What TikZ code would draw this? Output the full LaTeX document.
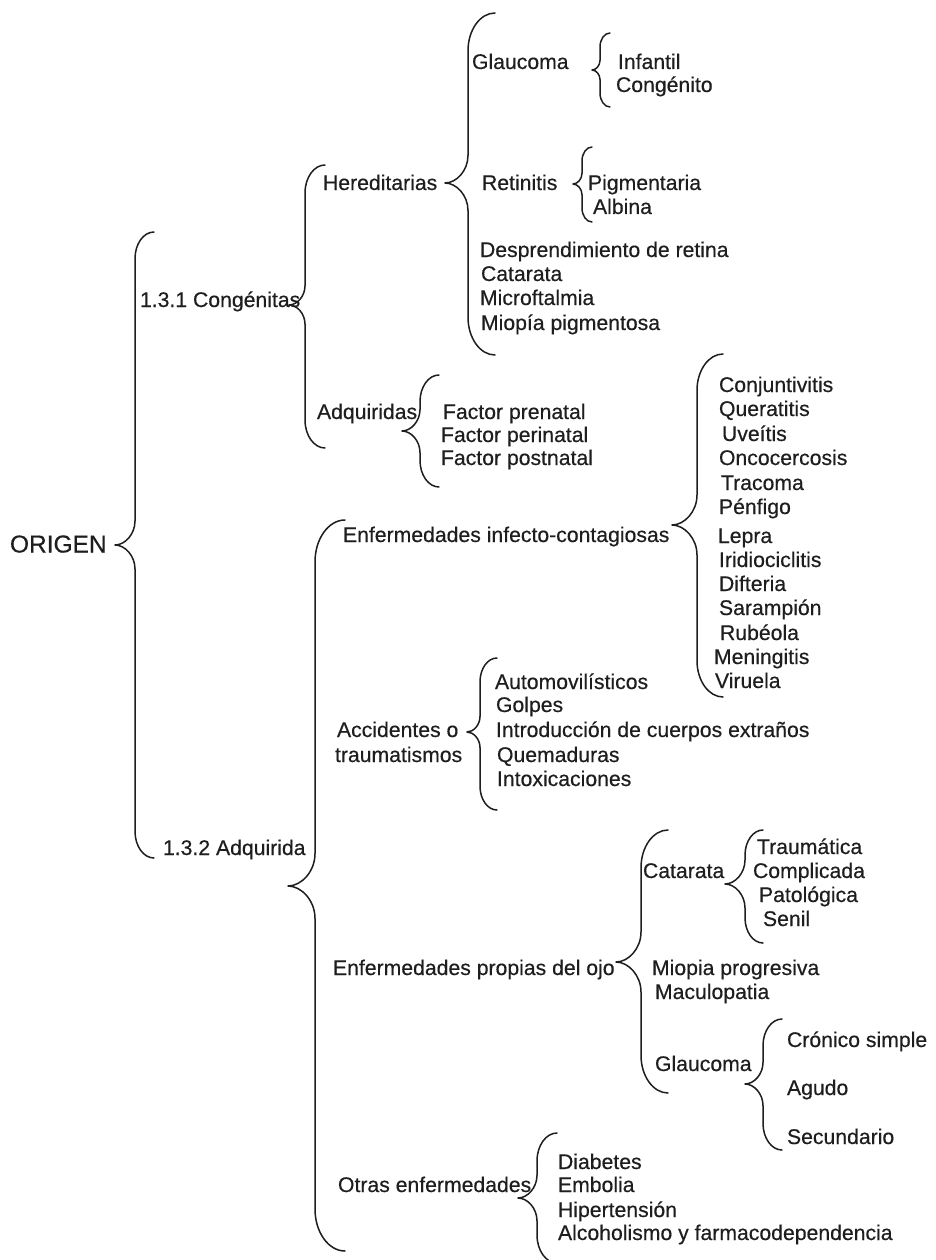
\documentclass[tikz,border=0pt]{standalone}
\usepackage{fontspec}
\setmainfont{Liberation Sans}[FakeBold=0.4]
\definecolor{ink}{HTML}{1E1E1E}

% curly brace: end x, line x, tip x, top y, tip y, bottom y
\newcommand\cbrace[6]{%
  \pgfmathsetmacro\brE{1.4*(#1-#2)}%
  \pgfmathsetmacro\brT{1.2*(#2-#3)}%
  \draw[brace] (#1,#4) .. controls ({#1-0.552*(#1-#2)},#4) and (#2,{#4+0.448*\brE}) .. (#2,{#4+\brE})
    -- (#2,{#5-\brT}) .. controls (#2,{#5-0.45*\brT}) and ({#3+0.5*(#2-#3)},#5) .. (#3,#5)
    .. controls ({#3+0.5*(#2-#3)},#5) and (#2,{#5+0.45*\brT}) .. (#2,{#5+\brT})
    -- (#2,{#6-\brE}) .. controls (#2,{#6-0.448*\brE}) and ({#1-0.552*(#1-#2)},#6) .. (#1,#6);
}

\begin{document}
\begin{tikzpicture}[x=1pt,y=-1pt,
  lbl/.style={anchor=base west, inner sep=0pt, outer sep=0pt, text=ink,
    font=\fontsize{21.2}{25}\selectfont, yshift=-7pt},
  rootlbl/.style={lbl, font=\fontsize{24.5}{29}\selectfont, yshift=-8.5pt},
  brace/.style={draw=ink, line width=1.5pt, line cap=round, line join=round}]

\fill[white] (0,0) rectangle (935,1260);
\useasboundingbox (0,0) rectangle (935,1260);

% root
\node[rootlbl] (origen) at (10,537) {ORIGEN};
\cbrace{154}{135}{115}{232}{545}{858}

% first level
\node[lbl] (cong) at (140,300) {1.3.1 Congénitas};
\node[lbl] (adq) at (163,848) {1.3.2 Adquirida};
\cbrace{325}{305}{289}{165}{305}{448}
\cbrace{345}{315}{288}{520}{886}{1251}

% congenital causes
\node[lbl] (hered) at (323,183) {Hereditarias};
\node[lbl] (adqs) at (317,412) {Adquiridas};
\cbrace{495}{468}{445}{13}{183}{355}
\cbrace{439}{420}{402}{375}{431}{487}

\node[lbl] (glau1) at (472,62) {Glaucoma};
\cbrace{610}{600}{592}{33}{70}{107}
\node[lbl] (infantil) at (618,62) {Infantil};
\node[lbl] (congenito) at (616,85) {Congénito};

\node[lbl] (retin) at (482,183) {Retinitis};
\cbrace{592}{582}{573}{147}{184}{222}
\node[lbl] (pigm) at (588,183) {Pigmentaria};
\node[lbl] (albina) at (593,207) {Albina};

\node[lbl] (despr) at (480,250) {Desprendimiento de retina};
\node[lbl] (catar1) at (481,274) {Catarata};
\node[lbl] (micro) at (480,298) {Microftalmia};
\node[lbl] (miopig) at (481,323) {Miopía pigmentosa};

\node[lbl] (fpre) at (443,412) {Factor prenatal};
\node[lbl] (fperi) at (441,435) {Factor perinatal};
\node[lbl] (fpost) at (441,458) {Factor postnatal};

% acquired causes
\node[lbl] (infec) at (343,535) {Enfermedades infecto-contagiosas};
\cbrace{723}{697}{672}{354}{525}{697}
\node[lbl] (i1) at (719,385) {Conjuntivitis};
\node[lbl] (i2) at (719,409) {Queratitis};
\node[lbl] (i3) at (722,434) {Uveítis};
\node[lbl] (i4) at (719,458) {Oncocercosis};
\node[lbl] (i5) at (721,483) {Tracoma};
\node[lbl] (i6) at (719,507) {Pénfigo};
\node[lbl] (i7) at (718,536) {Lepra};
\node[lbl] (i8) at (719,560) {Iridiociclitis};
\node[lbl] (i9) at (719,584) {Difteria};
\node[lbl] (i10) at (719,608) {Sarampión};
\node[lbl] (i11) at (720,633) {Rubéola};
\node[lbl] (i12) at (714,657) {Meningitis};
\node[lbl] (i13) at (715,681) {Viruela};

\node[lbl] (acc1) at (337,730) {Accidentes o};
\node[lbl] (acc2) at (335,755) {traumatismos};
\cbrace{497}{480}{467}{658}{732}{810}
\node[lbl] (a1) at (495,682) {Automovilísticos};
\node[lbl] (a2) at (496,705) {Golpes};
\node[lbl] (a3) at (496,730) {Introducción de cuerpos extraños};
\node[lbl] (a4) at (497,755) {Quemaduras};
\node[lbl] (a5) at (497,779) {Intoxicaciones};

\node[lbl] (ojo) at (333,968) {Enfermedades propias del ojo};
\cbrace{668}{641}{616}{830}{962}{1093}
\node[lbl] (catar2) at (643,871) {Catarata};
\cbrace{763}{745}{725}{830}{884}{943}
\node[lbl] (c1) at (757,847) {Traumática};
\node[lbl] (c2) at (753,871) {Complicada};
\node[lbl] (c3) at (759,895) {Patológica};
\node[lbl] (c4) at (763,919) {Senil};
\node[lbl] (miopro) at (652,968) {Miopia progresiva};
\node[lbl] (macu) at (655,992) {Maculopatia};
\node[lbl] (glau2) at (655,1064) {Glaucoma};
\cbrace{782}{763}{745}{1019}{1084}{1150}
\node[lbl] (g1) at (787,1040) {Crónico simple};
\node[lbl] (g2) at (787,1088) {Agudo};
\node[lbl] (g3) at (787,1137) {Secundario};

\node[lbl] (otras) at (338,1185) {Otras enfermedades};
\cbrace{557}{537}{518}{1133}{1198}{1263}
\node[lbl] (o1) at (558,1162) {Diabetes};
\node[lbl] (o2) at (558,1185) {Embolia};
\node[lbl] (o3) at (558,1210) {Hipertensión};
\node[lbl] (o4) at (558,1233) {Alcoholismo y farmacodependencia};

\end{tikzpicture}
\end{document}
